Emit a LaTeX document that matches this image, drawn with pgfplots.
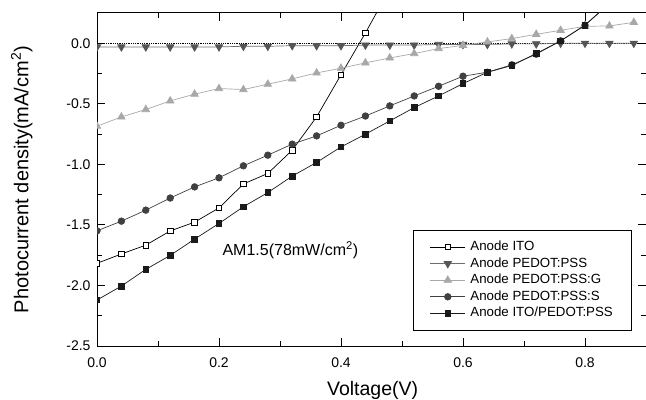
\documentclass[border=0pt]{standalone}
\usepackage{fontspec}
\setmainfont{Liberation Sans}
\usepackage{pgfplots}
\pgfplotsset{compat=1.18}
\definecolor{cITO}{RGB}{0,0,0}
\definecolor{cPSS}{RGB}{85,85,85}
\definecolor{cPSSl}{RGB}{110,110,110}
\definecolor{cG}{RGB}{168,168,168}
\definecolor{cS}{RGB}{64,64,64}
\definecolor{cIP}{RGB}{26,26,26}
\begin{document}
\begin{tikzpicture}
\begin{axis}[
  name=main,
  scale only axis,
  width=549pt, height=333pt,
  xmin=0, xmax=0.9, ymin=-2.5, ymax=0.25,
  xtick={0,0.2,0.4,0.6,0.8},
  ytick={-2.5,-2,-1.5,-1,-0.5,0},
  minor x tick num=1, minor y tick num=1,
  tick align=inside,
  major tick length=8pt, minor tick length=5pt,
  axis line style={line width=1pt},
  every tick/.style={line width=1pt, black},
  /pgf/number format/assume math mode=true,
  /pgf/number format/fixed, /pgf/number format/fixed zerofill,
  /pgf/number format/precision=1,
  ticklabel style={font=\fontsize{14}{16}\selectfont},
  xticklabel style={yshift=-8pt},
  yticklabel style={xshift=-3pt},
  xlabel={Voltage(V)},
  ylabel={Photocurrent density(mA/cm\textsuperscript{2})},
  every axis x label/.style={at={(axis description cs:0.502,-0.132)}, anchor=center, font=\fontsize{19.5}{23}\selectfont},
  every axis y label/.style={at={(axis description cs:-0.137,0.5)}, rotate=90, anchor=center, font=\fontsize{20}{23}\selectfont},
  clip marker paths=true,
  legend cell align=left,
  legend style={at={(0.5756,0.348)}, anchor=north west, draw=black, line width=0.8pt,
    font=\fontsize{13.3}{15}\selectfont, row sep=1.6pt, inner xsep=5pt, inner ysep=9pt,
    nodes={inner sep=1.5pt, text height=9.5pt, text depth=2.5pt}},
  legend image code/.code={\path (-0.4cm,0) (1.35cm,0);\draw[mark repeat=2,mark phase=2] plot coordinates {(0cm,0cm)(0.62cm,0cm)(1.24cm,0cm)};},
]
\addplot[black, densely dotted, line width=0.8pt, forget plot] coordinates {(0,0)(0.9,0)};
\addplot[cITO, line width=0.7pt, mark=square*, mark size=2.8pt, mark options={fill=white, draw=black, line width=0.8pt, solid}]
 coordinates {(0,-1.817)(0.04,-1.74)(0.08,-1.667)(0.12,-1.55)(0.16,-1.477)(0.2,-1.36)(0.24,-1.162)(0.28,-1.075)(0.32,-0.883)(0.36,-0.608)(0.40,-0.26)(0.44,0.085)(0.48,0.45)};
\addlegendentry{Anode ITO}
\addplot[cPSSl, line width=0.7pt, mark=triangle*, mark size=4.3pt, mark options={fill=cPSS, draw=cPSS, rotate=180, solid}]
 coordinates {(0,-0.03)(0.04,-0.03)(0.08,-0.03)(0.12,-0.03)(0.16,-0.03)(0.2,-0.03)(0.24,-0.025)(0.28,-0.025)(0.32,-0.02)(0.36,-0.02)(0.40,-0.02)(0.44,-0.015)(0.48,-0.015)(0.52,-0.015)(0.56,-0.01)(0.60,-0.01)(0.64,-0.01)(0.68,-0.005)(0.72,-0.005)(0.76,0)(0.80,0)(0.84,0)(0.88,0)};
\addlegendentry{Anode PEDOT:PSS}
\addplot[cG, line width=0.7pt, mark=triangle*, mark size=4.3pt, mark options={fill=cG, draw=cG, solid}]
 coordinates {(0,-0.685)(0.04,-0.608)(0.08,-0.547)(0.12,-0.476)(0.16,-0.42)(0.2,-0.374)(0.24,-0.382)(0.28,-0.338)(0.32,-0.294)(0.36,-0.245)(0.40,-0.206)(0.44,-0.162)(0.48,-0.121)(0.52,-0.085)(0.56,-0.044)(0.60,-0.017)(0.64,0.011)(0.68,0.039)(0.72,0.074)(0.76,0.107)(0.80,0.14)(0.84,0.143)(0.88,0.173)};
\addlegendentry{Anode PEDOT:PSS:G}
\addplot[cS, line width=0.7pt, mark=*, mark size=3.3pt, mark options={fill=cS, draw=cS, solid}]
 coordinates {(0,-1.549)(0.04,-1.469)(0.08,-1.378)(0.12,-1.278)(0.16,-1.186)(0.2,-1.111)(0.24,-1.012)(0.28,-0.924)(0.32,-0.833)(0.36,-0.765)(0.40,-0.677)(0.44,-0.601)(0.48,-0.517)(0.52,-0.435)(0.56,-0.355)(0.60,-0.272)(0.64,-0.239)(0.68,-0.178)(0.72,-0.09)(0.76,0.02)(0.80,0.15)(0.84,0.33)};
\addlegendentry{Anode PEDOT:PSS:S}
\addplot[cIP, line width=0.7pt, mark=square*, mark size=2.8pt, mark options={fill=cIP, draw=cIP, solid}]
 coordinates {(0,-2.12)(0.04,-2.005)(0.08,-1.867)(0.12,-1.752)(0.16,-1.617)(0.2,-1.488)(0.24,-1.35)(0.28,-1.233)(0.32,-1.097)(0.36,-0.984)(0.40,-0.856)(0.44,-0.751)(0.48,-0.641)(0.52,-0.531)(0.56,-0.435)(0.60,-0.333)(0.64,-0.239)(0.68,-0.184)(0.72,-0.085)(0.76,0.019)(0.80,0.149)(0.84,0.33)};
\addlegendentry{Anode ITO/PEDOT:PSS\hspace*{12pt}}
\node[anchor=west, font=\fontsize{16}{18}\selectfont] at (axis cs:0.2,-1.71) {AM1.5(78mW/cm\textsuperscript{2})};
\end{axis}
\pgfresetboundingbox
\path (main.south west) ++(-97pt,-53pt) coordinate (bl);
\path (main.north east) ++(0pt,13pt) coordinate (tr);
\useasboundingbox (bl) rectangle (tr);
\end{tikzpicture}
\end{document}
